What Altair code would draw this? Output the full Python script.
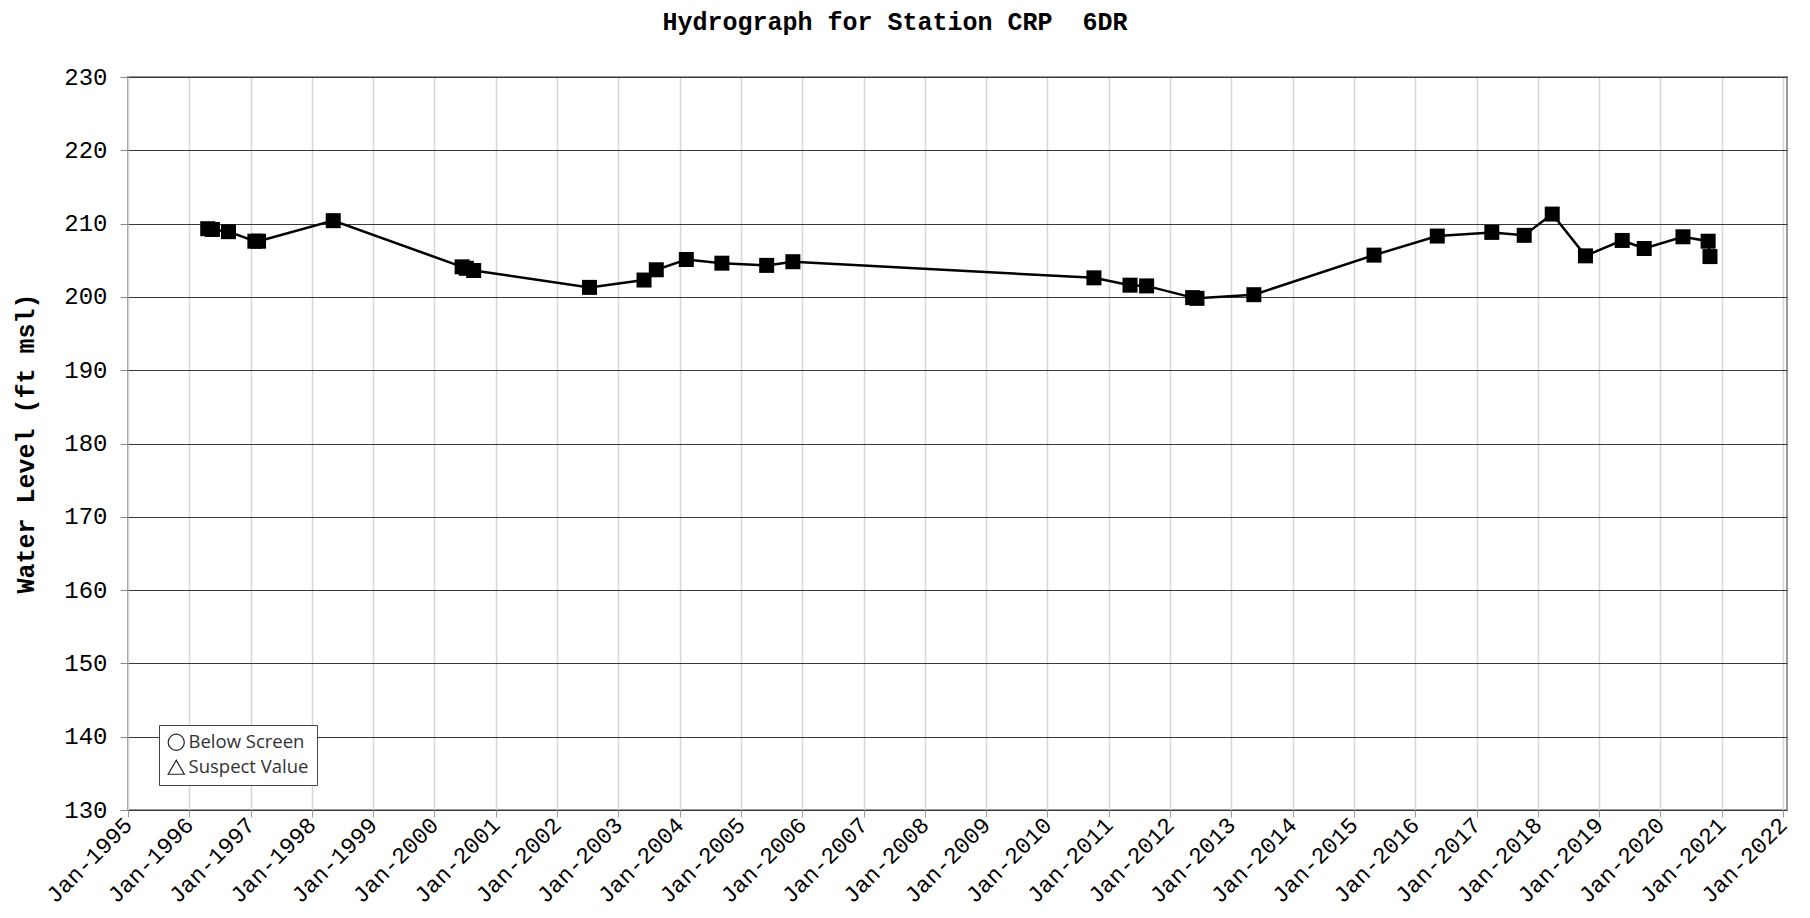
import altair as alt
import pandas as pd

# ---- data ----
dates = [
    "1996-04-20", "1996-05-18", "1996-08-22", "1997-01-26", "1997-02-17",
    "1998-05-08", "2000-06-14", "2000-07-09", "2000-08-22", "2002-07-13",
    "2003-06-03", "2003-08-15", "2004-02-10", "2004-09-09", "2005-06-03",
    "2005-11-06", "2010-10-05", "2011-05-08", "2011-08-15", "2012-05-15",
    "2012-06-10", "2013-05-15", "2015-05-01", "2016-05-12", "2017-04-02",
    "2017-10-12", "2018-03-28", "2018-10-12", "2019-05-19", "2019-09-27",
    "2020-05-15", "2020-10-12", "2020-10-23",
]
levels = [
    209.3, 209.2, 208.9, 207.6, 207.6,
    210.4, 204.1, 203.9, 203.6, 201.3,
    202.3, 203.7, 205.1, 204.6, 204.3,
    204.8, 202.6, 201.6, 201.5, 199.9,
    199.8, 200.3, 205.7, 208.3, 208.8,
    208.4, 211.3, 205.6, 207.7, 206.6,
    208.2, 207.6, 205.5,
]
y_ticks = [130, 140, 150, 160, 170, 180, 190, 200, 210, 220, 230]
x_tick_years = list(range(1995, 2023))
legend_labels = ["Below Screen", "Suspect Value"]
legend_shapes = ["circle", "triangle-up"]
title_text = ["Hydrograph for Station CRP \u00a06DR"]

df = pd.DataFrame({"date": dates, "level": levels})
legend_df = pd.DataFrame({"flag": legend_labels})
title_df = pd.DataFrame({"t": title_text})

MONO = "Liberation Mono"

x_enc = alt.X(
    "date:T",
    scale=alt.Scale(domain=["1995-01-01", "2022-01-25"]),
    axis=alt.Axis(
        title=None,
        values=[alt.DateTime(year=y, month=1, date=1) for y in x_tick_years],
        format="%b-%Y",
        labelAngle=-45,
        labelAlign="right",
        labelBaseline="middle",
        labelFont=MONO,
        labelFontSize=23,
        labelColor="black",
        labelPadding=4,
        labelOverlap=False,
        labelFlush=False,
        tickSize=7,
        tickColor="#999",
        domain=False,
        grid=True,
        gridColor="#d6d6d6",
        gridWidth=1.5,
    ),
)
y_enc = alt.Y(
    "level:Q",
    scale=alt.Scale(domain=[130, 230], nice=False, zero=False),
    axis=alt.Axis(
        title="Water Level (ft msl)",
        values=y_ticks,
        labelFont=MONO,
        labelFontSize=24,
        labelColor="black",
        labelPadding=13,
        tickSize=8,
        tickColor="#888",
        domain=False,
        grid=True,
        gridColor="#3a3a3a",
        gridWidth=1.2,
        titleFont=MONO,
        titleFontSize=25,
        titleFontWeight="bold",
        titleColor="black",
        titleAngle=-90,
        titleAlign="center",
        titleBaseline="middle",
        titleX=-103,
        titleY=366,
    ),
)

line = alt.Chart(df).mark_line(color="black", strokeWidth=2.5).encode(x=x_enc, y=y_enc)
pts = alt.Chart(df).mark_point(
    shape="square", filled=True, size=225, color="black", opacity=1
).encode(x="date:T", y="level:Q")

title_layer = alt.Chart(title_df).mark_text(
    font=MONO, fontSize=25, fontWeight="bold", color="black",
    align="center", baseline="middle",
).encode(text="t:N", x=alt.value(767), y=alt.value(-55))

legend_layer = alt.Chart(legend_df).mark_point(
    filled=False, color="#222", opacity=0, size=10
).encode(
    shape=alt.Shape(
        "flag:N",
        scale=alt.Scale(domain=legend_labels, range=legend_shapes),
        legend=alt.Legend(
            title=None,
            orient="none",
            legendX=31,
            legendY=648,
            strokeColor="#444",
            fillColor="white",
            padding=8,
            cornerRadius=0,
            symbolOpacity=1,
            symbolSize=260,
            symbolStrokeWidth=1.2,
            symbolStrokeColor="#222",
            symbolFillColor="white",
            labelFont="Open Sans",
            labelFontSize=18.5,
            labelColor="#333",
            rowPadding=4,
            labelOffset=3,
        ),
    )
)

chart = alt.layer(line, pts, title_layer, legend_layer).properties(
    width=1659,
    height=733,
    autosize=alt.AutoSizeParams(type="none"),
    padding={"left": 120, "top": 69, "right": 12, "bottom": 100},
    background="white",
).configure_view(stroke="#999", strokeWidth=2)

chart.save("out.html", embed_options={"renderer": "svg", "actions": False})
